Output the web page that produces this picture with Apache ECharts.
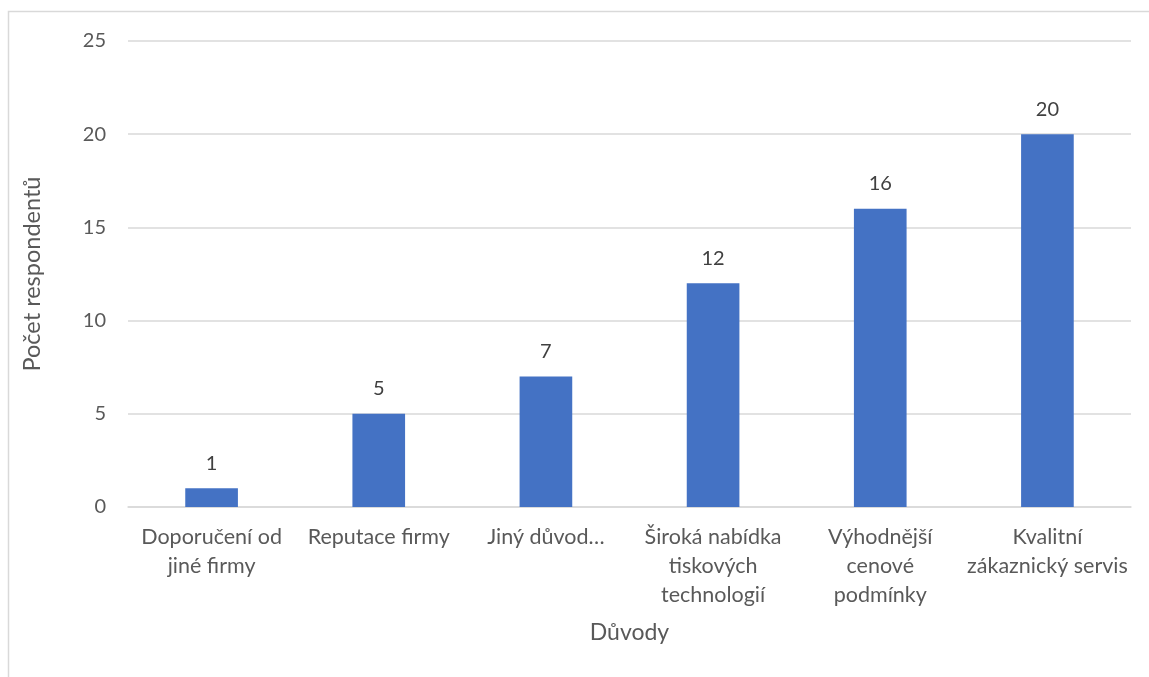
<!DOCTYPE html>
<html>
<head>
<meta charset="utf-8">
<script src="https://cdn.jsdelivr.net/npm/echarts@6/dist/echarts.min.js"></script>
<style>html,body{margin:0;padding:0;background:#fff;}#c{width:1149px;height:677px;}</style>
</head>
<body>
<div id="c"></div>
<script>
const categories = ["Doporučení od\njiné firmy", "Reputace firmy", "Jiný důvod…", "Široká nabídka\ntiskových\ntechnologií", "Výhodnější\ncenové\npodmínky", "Kvalitní\nzákaznický servis"];
const values = [1, 5, 7, 12, 16, 20];
const yTicks = { min: 0, max: 25, interval: 5 };
const xTitle = "Důvody";
const yTitle = "Počet respondentů";

const font = "Lato, 'Open Sans', sans-serif";
const chart = echarts.init(document.getElementById('c'));
chart.setOption({
  animation: false,
  graphic: [{
    type: 'polyline',
    shape: { points: [[8.5, 700], [8.5, 11.5], [1200, 11.5]] },
    style: { stroke: '#d9d9d9', lineWidth: 1.5, fill: null }
  }],
  grid: { left: 128, right: 18, top: 41, bottom: 170, containLabel: false },
  xAxis: {
    type: 'category',
    data: categories,
    name: xTitle,
    nameLocation: 'middle',
    nameGap: 114,
    nameTextStyle: { fontFamily: font, fontSize: 23, color: '#595959' },
    axisLine: { lineStyle: { color: '#d9d9d9', width: 1.5 } },
    axisTick: { show: false },
    axisLabel: { fontFamily: font, fontSize: 21.5, color: '#595959', lineHeight: 29, margin: 16, interval: 0 }
  },
  yAxis: {
    type: 'value',
    min: yTicks.min, max: yTicks.max, interval: yTicks.interval,
    name: yTitle,
    nameLocation: 'middle',
    nameGap: 84,
    nameRotate: 90,
    nameTextStyle: { fontFamily: font, fontSize: 23.5, color: '#595959' },
    axisLine: { show: false },
    axisTick: { show: false },
    splitLine: { lineStyle: { color: '#d9d9d9', width: 1.5 } },
    axisLabel: { fontFamily: font, fontSize: 20, color: '#595959', margin: 22 }
  },
  series: [{
    type: 'bar',
    data: values,
    barWidth: '31.5%',
    itemStyle: { color: '#4472c4' },
    label: { show: true, position: 'top', distance: 15, fontFamily: font, fontSize: 20, color: '#404040' }
  }]
});
</script>
</body>
</html>
